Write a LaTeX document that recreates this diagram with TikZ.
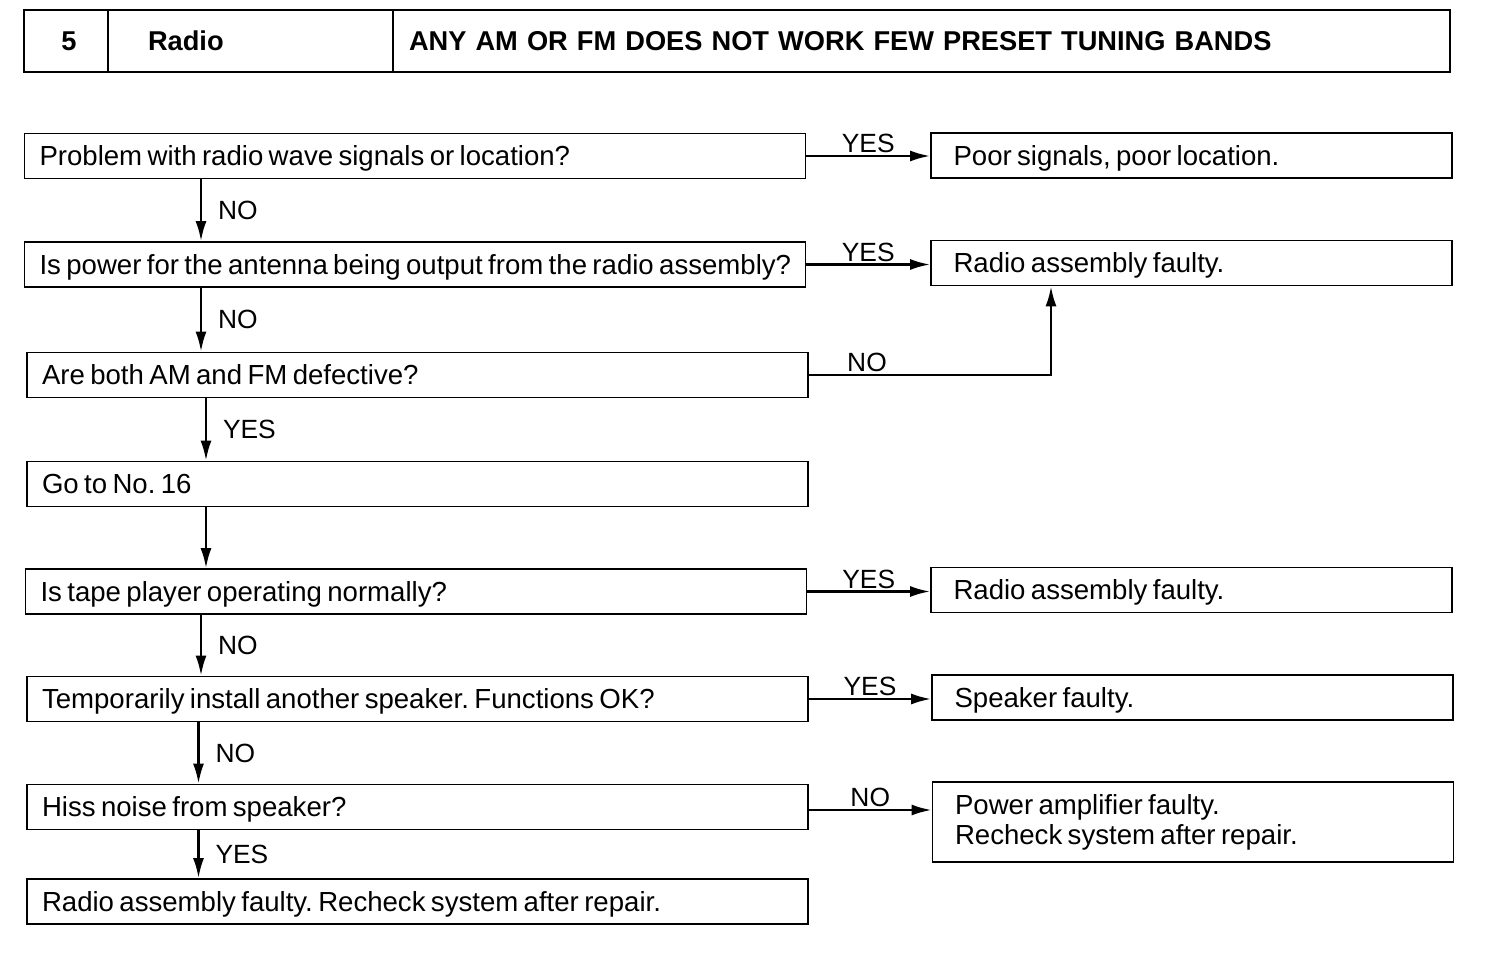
\documentclass[tikz,border=0pt]{standalone}
\usepackage{fontspec}
\setmainfont{Liberation Sans}
\usetikzlibrary{arrows.meta,positioning}
\frenchspacing
\newcommand\tightspace{\spaceskip=0.195em plus 0.1em\relax}

\tikzset{
    qbox/.style={draw, line width=1pt, minimum width=15.62cm, minimum height=0.9cm,
        text width=15.02cm, inner xsep=0.3cm, align=left, text depth=0pt,
        font=\fontsize{15.7}{18.5}\selectfont, execute at begin node=\tightspace},
    rbox/.style={draw, line width=1pt, minimum width=10.42cm, minimum height=0.9cm,
        text width=9.52cm, inner xsep=0.45cm, align=left,
        font=\fontsize{15.7}{17}\selectfont, execute at begin node=\tightspace},
    abox/.style={rbox, text depth=0pt},
    hcell/.style={draw, line width=1.1pt, minimum height=1.24cm, inner sep=0pt,
        font=\bfseries\fontsize{15.5}{18}\selectfont},
    flow/.style={line width=1.4pt, -{Latex[length=4mm,width=2.2mm]}},
    lbl/.style={font=\fontsize{15}{18}\selectfont, inner sep=1pt}
}

\begin{document}
\begin{tikzpicture}
    \useasboundingbox (0,0) rectangle (30.08,-19.12);

    %% Header
    \node[hcell, minimum width=1.68cm] (num) at (1.32,-0.82) {\hspace*{0.12cm}5};
    \node[hcell, minimum width=5.70cm, text width=4.7cm, align=left] (sys) at (5.01,-0.82) {\hspace*{0.3cm}Radio};
    \node[hcell, minimum width=21.14cm, text width=20.5cm, align=left] (title) at (18.43,-0.82)
        {ANY AM OR FM DOES NOT WORK FEW PRESET TUNING BANDS};

    %% Question boxes (left column)
    \node[qbox] (q1) at (8.30,-3.12) {Problem with radio wave signals or location?};
    \node[qbox] (q2) at (8.30,-5.29) {\mbox{Is power for the antenna being output from the radio assembly?}};
    \node[qbox] (q3) at (8.35,-7.50) {Are both AM and FM defective?};
    \node[qbox] (q4) at (8.35,-9.68) {Go to No. 16};
    \node[qbox] (q5) at (8.32,-11.83) {Is tape player operating normally?};
    \node[qbox] (q6) at (8.35,-13.98) {Temporarily install another speaker. Functions OK?};
    \node[qbox] (q7) at (8.35,-16.14) {Hiss noise from speaker?};
    \node[qbox] (q8) at (8.35,-18.03) {Radio assembly faulty. Recheck system after repair.};

    %% Result boxes (right column)
    \node[abox] (a1) at (23.83,-3.11) {Poor signals, poor location.};
    \node[abox] (a2) at (23.83,-5.26) {Radio assembly faulty.};
    \node[abox] (a5) at (23.83,-11.80) {Radio assembly faulty.};
    \node[abox] (a6) at (23.85,-13.95) {Speaker faulty.};
    \node[rbox, minimum height=1.6cm] (a7) at (23.86,-16.44)
        {Power amplifier faulty.\\Recheck system after repair.};

    % column of the down arrows
    \coordinate (col) at (4.02,0);

    %% Down arrows
    \draw[flow] (q1.south -| col) -- (q2.north -| col) node[lbl, midway, right, xshift=8pt] {NO};
    \draw[flow] (q2.south -| col) -- (q3.north -| col) node[lbl, midway, right, xshift=8pt] {NO};
    \draw[flow] ([xshift=1mm]q3.south -| col) -- ([xshift=1mm]q4.north -| col) node[lbl, midway, right, xshift=8pt] {YES};
    \draw[flow] ([xshift=1mm]q4.south -| col) -- ([xshift=1mm]q5.north -| col);
    \draw[flow] (q5.south -| col) -- (q6.north -| col) node[lbl, midway, right, xshift=8pt] {NO};
    \draw[flow] ([xshift=-0.5mm]q6.south -| col) -- ([xshift=-0.5mm]q7.north -| col) node[lbl, midway, right, xshift=8pt] {NO};
    \draw[flow] ([xshift=-0.5mm]q7.south -| col) -- ([xshift=-0.5mm]q8.north -| col) node[lbl, midway, right, xshift=8pt] {YES};

    %% Side arrows
    \draw[flow] (q1.east) -- (q1.east -| a1.west) node[lbl, midway, above] {YES};
    \draw[flow] (q2.east) -- (q2.east -| a2.west) node[lbl, midway, above] {YES};
    \coordinate (up) at (21.02,0);
    \draw[flow] (q3.east) -- (q3.east -| up) node[lbl, pos=0.24, above] {NO} -- (a2.south -| up);
    \draw[flow] (q5.east) -- (q5.east -| a5.west) node[lbl, midway, above] {YES};
    \draw[flow] (q6.east) -- (q6.east -| a6.west) node[lbl, midway, above] {YES};
    \draw[flow] ([yshift=-0.06cm]q7.east) -- ([yshift=-0.06cm]q7.east -| a7.west) node[lbl, midway, above] {NO};

\end{tikzpicture}
\end{document}
